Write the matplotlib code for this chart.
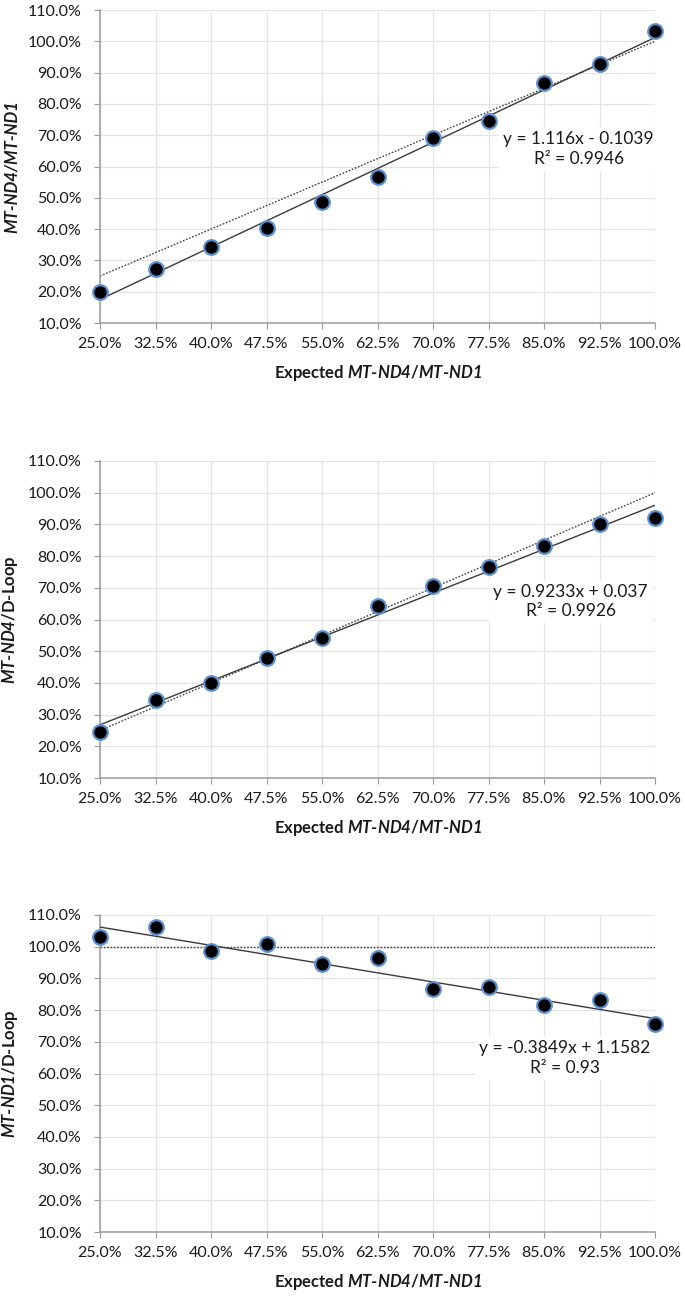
import numpy as np
import matplotlib.pyplot as plt
from matplotlib.ticker import FixedLocator, PercentFormatter

# expected ratio on the x axis (same for all three panels)
expected = [0.25, 0.325, 0.40, 0.475, 0.55, 0.625, 0.70, 0.775, 0.85, 0.925, 1.00]

# measured ratios
nd4_nd1 = [0.199, 0.274, 0.343, 0.402, 0.486, 0.567, 0.690, 0.746, 0.868, 0.926, 1.034]
nd4_dloop = [0.245, 0.345, 0.401, 0.477, 0.541, 0.643, 0.706, 0.767, 0.831, 0.901, 0.919]
nd1_dloop = [1.032, 1.061, 0.987, 1.010, 0.947, 0.965, 0.866, 0.873, 0.816, 0.831, 0.755]

# trendline coefficients (slope, intercept) and R^2 as printed
fit_nd4_nd1 = [1.116, -0.1039]
fit_nd4_dloop = [0.9233, 0.037]
fit_nd1_dloop = [-0.3849, 1.1582]
r2_values = [0.9946, 0.9926, 0.93]

y_ticks = [0.1, 0.2, 0.3, 0.4, 0.5, 0.6, 0.7, 0.8, 0.9, 1.0, 1.1]

plt.rcParams['font.family'] = ['Lato', 'DejaVu Sans']
plt.rcParams['mathtext.fontset'] = 'custom'
plt.rcParams['mathtext.rm'] = 'Lato:bold:italic'
plt.rcParams['mathtext.it'] = 'Lato:bold:italic'
plt.rcParams['mathtext.bf'] = 'Lato:bold:italic'

TXT = '#1a1a1a'
GRID = '#e4e4e4'
SPINE = '#9a9a9a'


def panel(ax, y, fit, r2, ref, ylabel, ylabel_kw, eq_pos):
    """Rysuje jeden panel: punkty, linia trendu, linia odniesienia, równanie"""

    x = np.array(expected)
    # linia odniesienia (kropkowana)
    if ref == 'diag':
        ax.plot([expected[0], expected[-1]], [expected[0], expected[-1]], ls=(0, (1.2, 1.2)),
                color='#404040', lw=1.0, zorder=2)
    else:
        ax.plot([expected[0], expected[-1]], [1.0, 1.0], ls=(0, (1.2, 1.2)),
                color='#404040', lw=1.0, zorder=2)
    # linia trendu
    ax.plot(x, fit[0] * x + fit[1], color='#3a3a3a', lw=1.0, zorder=3)
    ax.plot(x, y, 'o', ms=10.5, mfc='black', mec='#5a8fd0', mew=1.6, zorder=4, clip_on=False)

    sign = '+' if fit[1] >= 0 else '-'
    eq = 'y = {:g}x {} {:g}\nR² = {:g}'.format(fit[0], sign, abs(fit[1]), r2)
    if fit[1] < 0:
        eq = 'y = {:g}x - {:g}\nR² = {:g}'.format(fit[0], abs(fit[1]), r2)
    ax.text(eq_pos[0], eq_pos[1], eq, ha='center', va='center', multialignment='center',
            fontsize=12.5, color=TXT, linespacing=1.25, zorder=5,
            bbox=dict(facecolor='white', edgecolor='none', pad=3))

    ax.set_xlim(0.25, 1.0)
    ax.set_ylim(0.1, 1.1)
    ax.xaxis.set_major_locator(FixedLocator(expected))
    ax.yaxis.set_major_locator(FixedLocator(y_ticks))
    ax.xaxis.set_major_formatter(PercentFormatter(1.0, decimals=1))
    ax.yaxis.set_major_formatter(PercentFormatter(1.0, decimals=1))
    ax.grid(True, color=GRID, lw=0.9, zorder=0)
    ax.set_axisbelow(True)
    for s in ['top', 'right']:
        ax.spines[s].set_visible(False)
    for s in ['left', 'bottom']:
        ax.spines[s].set_color(SPINE)
        ax.spines[s].set_linewidth(1.1)
    ax.tick_params(axis='x', length=4, color=SPINE, pad=6, labelsize=11.5, labelcolor=TXT)
    ax.tick_params(axis='y', length=4, color=SPINE, pad=9, labelsize=11.5, labelcolor=TXT)

    ax.set_xlabel(r'Expected $MT$-$ND4$/$MT$-$ND1$', fontsize=12, fontweight='bold', color=TXT, labelpad=9)
    ax.set_ylabel(ylabel, fontsize=12, fontweight='bold', color=TXT, labelpad=6, **ylabel_kw)


fig = plt.figure(figsize=(6.85, 12.96), dpi=100)
W, H = 685, 1296
boxes = [(10, 323), (461, 778), (915, 1232)]  # górna i dolna krawędź w pikselach
axes = [fig.add_axes([100 / W, 1 - b / H, 555 / W, (b - t) / H]) for t, b in boxes]

panel(axes[0], nd4_nd1, fit_nd4_nd1, r2_values[0], 'diag', 'MT-ND4/MT-ND1',
      {'fontstyle': 'italic'}, (0.897, 0.656))
panel(axes[1], nd4_dloop, fit_nd4_dloop, r2_values[1], 'diag', r'$MT$-$ND4$/D-Loop',
      {}, (0.886, 0.657))
panel(axes[2], nd1_dloop, fit_nd1_dloop, r2_values[2], 'flat', r'$MT$-$ND1$/D-Loop',
      {}, (0.878, 0.649))

fig.savefig('out.png', dpi=100, facecolor='white')
